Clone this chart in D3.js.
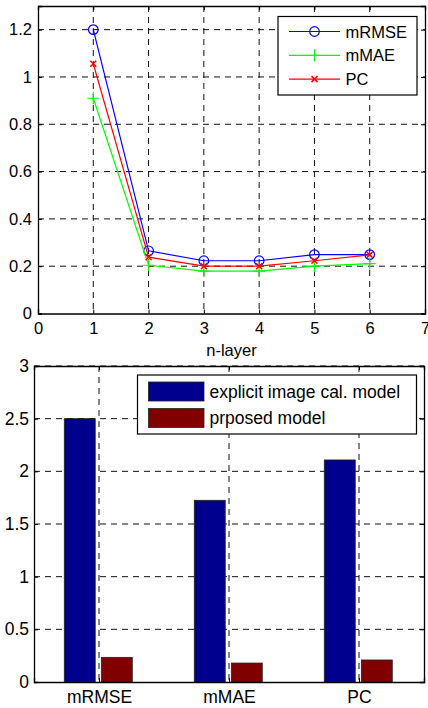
<!doctype html>
<html>
<head>
  <script src="https://d3js.org/d3.v7.min.js"></script>
  <style>
    body { margin:0; background:#fff; }
    text { font-family: "Liberation Sans", Arial, sans-serif; fill:#000; }
  </style>
</head>
<body>
  <script>
    // top chart data
    var layers = [1, 2, 3, 4, 5, 6];
    var mRMSE = [1.2, 0.265, 0.223, 0.223, 0.249, 0.249];
    var mMAE = [0.91, 0.204, 0.179, 0.179, 0.2, 0.211];
    var PC = [1.056, 0.238, 0.2, 0.2, 0.223, 0.248];
    var topXTicks = [0, 1, 2, 3, 4, 5, 6, 7];
    var topYTicks = [0, 0.2, 0.4, 0.6, 0.8, 1, 1.2];

    // bottom chart data
    var metrics = ["mRMSE", "mMAE", "PC"];
    var explicitModel = [2.5, 1.725, 2.108];
    var proposedModel = [0.234, 0.18, 0.209];
    var botYTicks = [0, 0.5, 1, 1.5, 2, 2.5, 3];

    var width = 428, height = 708;
    var svg = d3.select("body").append("svg")
      .attr("width", width)
      .attr("height", height);

    var gridDash = "6,5";
    var topFont = 16.5;
    var botFont = 17.5;

    // ---------- top chart ----------
    var x1 = d3.scaleLinear().domain([0, 7]).range([38, 425]);
    var y1 = d3.scaleLinear().domain([0, 1.3]).range([313.5, 6]);

    var topG = svg.append("g");

    // grid
    topG.selectAll(".vgrid").data(topXTicks.slice(1, -1)).enter().append("line")
      .attr("x1", d => x1(d)).attr("x2", d => x1(d))
      .attr("y1", y1(1.3)).attr("y2", y1(0))
      .attr("stroke", "#111").attr("stroke-dasharray", gridDash).attr("stroke-width", 1);
    topG.selectAll(".hgrid").data(topYTicks.slice(1)).enter().append("line")
      .attr("x1", x1(0)).attr("x2", x1(7))
      .attr("y1", d => y1(d)).attr("y2", d => y1(d))
      .attr("stroke", "#111").attr("stroke-dasharray", gridDash).attr("stroke-width", 1);

    // axes
    var xa1 = d3.axisBottom(x1).tickValues(topXTicks).tickSize(-4).tickPadding(8.5).tickFormat(d3.format("d"));
    var xa1t = d3.axisTop(x1).tickValues(topXTicks).tickSize(-4).tickFormat("");
    var ya1 = d3.axisLeft(y1).tickValues(topYTicks).tickSize(-4).tickPadding(6).tickFormat(d => d3.format("")(+d.toFixed(1)));
    var ya1r = d3.axisRight(y1).tickValues(topYTicks).tickSize(-4).tickFormat("");

    function styleAxis(size) {
      return function(g) {
        g.select(".domain").attr("stroke", "#000").attr("stroke-width", 1.3);
        g.selectAll(".tick line").attr("stroke", "#000");
        g.selectAll("text").attr("font-size", size).attr("fill", "#000")
          .attr("font-family", "'Liberation Sans', Arial, sans-serif");
      };
    }

    topG.append("g").attr("transform", "translate(0," + y1(0) + ")").call(xa1).call(styleAxis(topFont));
    topG.append("g").attr("transform", "translate(0," + y1(1.3) + ")").call(xa1t).call(styleAxis(topFont));
    topG.append("g").attr("transform", "translate(" + x1(0) + ",0)").call(ya1).call(styleAxis(topFont));
    topG.append("g").attr("transform", "translate(" + x1(7) + ",0)").call(ya1r).call(styleAxis(topFont));

    topG.append("text").attr("x", x1(3.5)).attr("y", 356)
      .attr("text-anchor", "middle").attr("font-size", topFont).text("n-layer");

    var series = [
      { name: "mRMSE", values: mRMSE, color: "#0000ff", marker: "circle" },
      { name: "mMAE", values: mMAE, color: "#00ff00", marker: "plus" },
      { name: "PC", values: PC, color: "#ff0000", marker: "cross" }
    ];

    var line = d3.line().x((d, i) => x1(layers[i])).y(d => y1(d));

    function drawMarker(g, type, cx, cy, color) {
      if (type === "circle") {
        g.append("circle").attr("cx", cx).attr("cy", cy).attr("r", 4.8)
          .attr("fill", "none").attr("stroke", color).attr("stroke-width", 1.2);
      } else if (type === "plus") {
        g.append("path").attr("d", "M" + (cx - 6) + "," + cy + "H" + (cx + 6) + "M" + cx + "," + (cy - 6) + "V" + (cy + 6))
          .attr("stroke", color).attr("stroke-width", 1.2).attr("fill", "none");
      } else {
        g.append("path").attr("d", "M" + (cx - 3) + "," + (cy - 3) + "L" + (cx + 3) + "," + (cy + 3) + "M" + (cx - 3) + "," + (cy + 3) + "L" + (cx + 3) + "," + (cy - 3))
          .attr("stroke", color).attr("stroke-width", 1.5).attr("fill", "none");
      }
    }

    series.forEach(function(s) {
      topG.append("path").attr("d", line(s.values))
        .attr("fill", "none").attr("stroke", s.color).attr("stroke-width", 1.2);
      s.values.forEach(function(v, i) {
        drawMarker(topG, s.marker, x1(layers[i]), y1(v), s.color);
      });
    });

    // legend top
    var lg1 = topG.append("g");
    lg1.append("rect").attr("x", 278).attr("y", 16.5).attr("width", 139).attr("height", 78.5)
      .attr("fill", "#fff").attr("stroke", "#000").attr("stroke-width", 1.2);
    series.forEach(function(s, i) {
      var yy = 31.5 + i * 23.8;
      lg1.append("line").attr("x1", 289).attr("x2", 340).attr("y1", yy).attr("y2", yy)
        .attr("stroke", s.color).attr("stroke-width", 1.2);
      drawMarker(lg1, s.marker, 314.5, yy, s.color);
      lg1.append("text").attr("x", 345.5).attr("y", yy + 6).attr("font-size", topFont).text(s.name);
    });

    // ---------- bottom chart ----------
    var x2 = d3.scaleLinear().domain([0.5, 3.5]).range([34, 424]);
    var y2 = d3.scaleLinear().domain([0, 3]).range([682, 366]);

    var bot = svg.append("g");

    bot.selectAll(".vgrid").data([1, 2, 3]).enter().append("line")
      .attr("x1", d => x2(d)).attr("x2", d => x2(d))
      .attr("y1", y2(3)).attr("y2", y2(0))
      .attr("stroke", "#111").attr("stroke-dasharray", gridDash);
    bot.selectAll(".hgrid").data(botYTicks.slice(1)).enter().append("line")
      .attr("x1", x2(0.5)).attr("x2", x2(3.5))
      .attr("y1", d => y2(d)).attr("y2", d => y2(d))
      .attr("stroke", "#111").attr("stroke-dasharray", gridDash);

    var barW = 0.238;
    var barSeries = [
      { name: "explicit image cal. model", values: explicitModel, color: "#00008f", offset: -0.148 },
      { name: "prposed model", values: proposedModel, color: "#800000", offset: 0.137 }
    ];
    barSeries.forEach(function(s) {
      bot.selectAll(null).data(s.values).enter().append("rect")
        .attr("x", (d, i) => x2(i + 1 + s.offset - barW / 2))
        .attr("width", x2(barW) - x2(0))
        .attr("y", d => y2(d))
        .attr("height", d => y2(0) - y2(d))
        .attr("fill", s.color).attr("stroke", "#222").attr("stroke-width", 0.8);
    });

    var xa2 = d3.axisBottom(x2).tickValues([1, 2, 3]).tickSize(-4).tickPadding(9).tickFormat((d, i) => metrics[i]);
    var xa2t = d3.axisTop(x2).tickValues([1, 2, 3]).tickSize(-4).tickFormat("");
    var ya2 = d3.axisLeft(y2).tickValues(botYTicks).tickSize(-4).tickPadding(5).tickFormat(d3.format(""));
    var ya2r = d3.axisRight(y2).tickValues(botYTicks).tickSize(-4).tickFormat("");

    bot.append("g").attr("transform", "translate(0," + y2(0) + ")").call(xa2).call(styleAxis(botFont));
    bot.append("g").attr("transform", "translate(0," + y2(3) + ")").call(xa2t).call(styleAxis(botFont));
    bot.append("g").attr("transform", "translate(" + x2(0.5) + ",0)").call(ya2).call(styleAxis(botFont));
    bot.append("g").attr("transform", "translate(" + x2(3.5) + ",0)").call(ya2r).call(styleAxis(botFont));

    // legend bottom
    var lg2 = bot.append("g");
    lg2.append("rect").attr("x", 137.5).attr("y", 375).attr("width", 279).attr("height", 59)
      .attr("fill", "#fff").attr("stroke", "#000").attr("stroke-width", 1.2);
    barSeries.forEach(function(s, i) {
      var yy = 382 + i * 26.5;
      lg2.append("rect").attr("x", 148.5).attr("y", yy).attr("width", 55.5).attr("height", 19)
        .attr("fill", s.color).attr("stroke", "#222").attr("stroke-width", 0.8);
      lg2.append("text").attr("x", 209.5).attr("y", yy + 15.5).attr("font-size", botFont).text(s.name);
    });
  </script>
</body>
</html>
